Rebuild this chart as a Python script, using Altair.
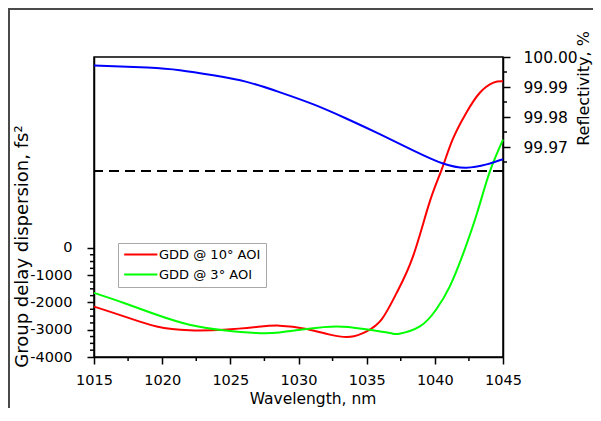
import altair as alt
import pandas as pd

# ---- data ----
series_names = ["GDD @ 10° AOI", "GDD @ 3° AOI"]
series_colors = ["#ff0000", "#00ff00"]

wl_10 = [1015, 1017.2, 1019.6, 1022.0, 1024.5, 1026.9, 1028.6, 1030.6, 1032.3, 1033.8,
         1035.0, 1036.1, 1037.2, 1038.4, 1039.6, 1040.5, 1041.3, 1042.3, 1043.3, 1044.3, 1045]
gdd_10 = [-2150, -2510, -2880, -3020, -3000, -2900, -2850, -2970, -3180, -3260,
          -3060, -2620, -1650, -310, 1650, 2870, 3970, 4950, 5690, 6060, 6110]

wl_3 = [1015, 1017.2, 1019.6, 1022.0, 1024.5, 1026.9, 1028.6, 1030.6, 1032.8, 1034.8,
        1036.7, 1037.4, 1038.9, 1040.1, 1041.1, 1042.1, 1043.1, 1044.0, 1045]
gdd_3 = [-1650, -2020, -2450, -2815, -3020, -3120, -3100, -2970, -2880, -2970,
         -3120, -3150, -2880, -2260, -1410, -180, 1280, 2750, 3970]

wl_r = [1015, 1018.9, 1021.3, 1023.75, 1026.2, 1028.6, 1031.1, 1033.5, 1036.0, 1038.4,
        1040.6, 1042.3, 1043.8, 1045]
refl = [99.9972, 99.9965, 99.9956, 99.9939, 99.9917, 99.9883, 99.9842, 99.9795, 99.9742, 99.9689,
        99.9645, 99.9631, 99.9642, 99.9659]

dash_level = [99.962]

x_ticks = [1015, 1020, 1025, 1030, 1035, 1040, 1045]
x_minor = [1017.5, 1022.5, 1027.5, 1032.5, 1037.5, 1042.5]
gdd_ticks = [-4000, -3000, -2000, -1000, 0]
gdd_minor = [-3750, -3500, -3250, -2750, -2500, -2250, -1750, -1500, -1250, -750, -500, -250]
r_ticks = [99.97, 99.98, 99.99, 100.00]
r_minor = [99.965, 99.975, 99.985, 99.995]

x_domain = [1015, 1045]
gdd_domain = [-4000, 7000]
r_domain = [99.90, 100.00]

FONT = "DejaVu Sans"
W, H = 409, 300
PAD = {"left": 86, "top": 49, "right": 90, "bottom": 51}

# ---- tables ----
gdd_df = pd.concat([
    pd.DataFrame({"wl": wl_10, "gdd": gdd_10, "series": series_names[0], "o": range(len(wl_10))}),
    pd.DataFrame({"wl": wl_3, "gdd": gdd_3, "series": series_names[1], "o": range(len(wl_3))}),
])
r_df = pd.DataFrame({"wl": wl_r, "r": refl})
dash_df = pd.DataFrame({"r": dash_level})
xminor_df = pd.DataFrame({"wl": x_minor})
gminor_df = pd.DataFrame({"gdd": gdd_minor})
rminor_df = pd.DataFrame({"r": r_minor})
one_df = pd.DataFrame({"a": [0]})

xscale = alt.Scale(domain=x_domain, nice=False, zero=False)
gscale = alt.Scale(domain=gdd_domain, nice=False, zero=False)
rscale = alt.Scale(domain=r_domain, nice=False, zero=False)

x_axis = alt.Axis(values=x_ticks, format="d", tickSize=7, tickWidth=1.5, tickColor="black",
                  domainColor="black", domainWidth=1.5, labelPadding=9, labelFontSize=14.5,
                  labelFont=FONT, labelColor="black", grid=False, labelFlush=False,
                  labelOverlap=False,
                  title="Wavelength, nm", titleFont=FONT, titleFontSize=15.5,
                  titleFontWeight="normal", titleColor="black",
                  titleX=218.5, titleY=46, titleAlign="center", titleBaseline="alphabetic")

g_axis = alt.Axis(orient="left", values=gdd_ticks, labelExpr="datum.value + ''",
                  tickSize=7, tickWidth=1.5, tickColor="black", labelFlush=False,
                  labelOverlap=False,
                  domainColor="black", domainWidth=1.5, labelPadding=15, labelFontSize=14.5,
                  labelFont=FONT, labelColor="black", grid=False,
                  title="Group delay dispersion, fs²", titleFont=FONT, titleFontSize=18,
                  titleFontWeight="normal", titleColor="black", titleAngle=270,
                  titleX=-67, titleY=189, titleAlign="center", titleBaseline="alphabetic")

r_axis = alt.Axis(orient="right", values=r_ticks, format=".2f",
                  tickSize=7, tickWidth=1.5, tickColor="black", labelFlush=False,
                  labelOverlap=False,
                  domainColor="black", domainWidth=1.5, labelPadding=13, labelFontSize=15.5,
                  labelFont=FONT, labelColor="black", grid=False,
                  title="Reflectivity, %", titleFont=FONT, titleFontSize=16,
                  titleFontWeight="normal", titleColor="black", titleAngle=270,
                  titleX=85, titleY=31, titleAlign="center", titleBaseline="alphabetic")

X = alt.X("wl:Q", scale=xscale, axis=x_axis)

gdd_lines = alt.Chart(gdd_df).mark_line(strokeWidth=2, interpolate="natural").encode(
    x=X,
    y=alt.Y("gdd:Q", scale=gscale, axis=g_axis),
    color=alt.Color("series:N",
                    scale=alt.Scale(domain=series_names, range=series_colors),
                    legend=alt.Legend(title=None, orient="none", legendX=24, legendY=186,
                                      strokeColor="#a8a8a8", fillColor="white", padding=5,
                                      symbolType="M-1.6,0H8.4", symbolStrokeWidth=2, symbolSize=44,
                                      labelFont=FONT, labelFontSize=13, labelColor="black",
                                      labelOffset=23, rowPadding=6)),
    order="o:Q",
)

r_line = alt.Chart(r_df).mark_line(strokeWidth=2, color="#0000ff", interpolate="natural").encode(
    x=X,
    y=alt.Y("r:Q", scale=rscale, axis=r_axis),
)

dash = alt.Chart(dash_df).mark_rule(strokeWidth=2, color="black", strokeDash=[10, 6]).encode(
    y=alt.Y("r:Q", scale=rscale, axis=None),
)

x_minor_ticks = alt.Chart(xminor_df).mark_rule(strokeWidth=1.5, color="black").encode(
    x=X,
    y=alt.value(H), y2=alt.value(H + 4),
)

g_minor_ticks = alt.Chart(gminor_df).mark_rule(strokeWidth=1.5, color="black").encode(
    y=alt.Y("gdd:Q", scale=gscale, axis=None),
    x=alt.value(0), x2=alt.value(-4),
)

r_minor_ticks = alt.Chart(rminor_df).mark_rule(strokeWidth=1.5, color="black").encode(
    y=alt.Y("r:Q", scale=rscale, axis=None),
    x=alt.value(W), x2=alt.value(W + 4),
)

page_frame = alt.Chart(one_df).mark_rect(fill=None, fillOpacity=0, stroke="#4a4a4a", strokeWidth=2).encode(
    x=alt.value(-85), x2=alt.value(W + 140),
    y=alt.value(-48), y2=alt.value(H + 120),
)

chart = alt.layer(
    page_frame, gdd_lines, r_line, dash, x_minor_ticks, g_minor_ticks, r_minor_ticks
).resolve_scale(y="independent", color="independent").properties(
    width=W, height=H,
    padding=PAD,
    autosize=alt.AutoSizeParams(type="none"),
    background="white",
).configure_view(stroke="black", strokeWidth=1.5)

chart.save("out.html", embed_options={"renderer": "svg", "actions": False})
